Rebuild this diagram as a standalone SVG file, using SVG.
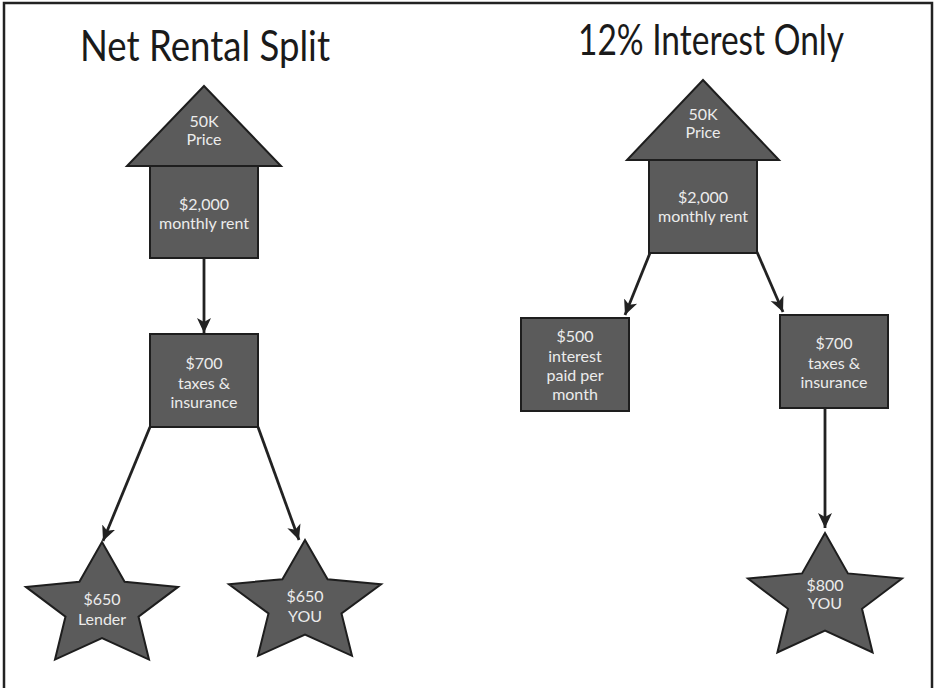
<svg xmlns="http://www.w3.org/2000/svg" width="936" height="688" viewBox="0 0 936 688">
<style>
.shape{fill:#5b5b5b;stroke:#1e1e1e;stroke-width:2;stroke-linejoin:miter}
.lbl{font-family:Lato,"Open Sans","Liberation Sans",sans-serif;font-size:16px;fill:#ececec;text-anchor:middle}
.title{font-family:Lato,"Open Sans","Liberation Sans",sans-serif;font-size:42px;fill:#1a1a1a}
.conn line{stroke:#222;stroke-width:2.8;marker-end:url(#ah)}
</style>
<defs>
<marker id="ah" markerUnits="userSpaceOnUse" markerWidth="16" markerHeight="16" viewBox="0 0 16 16" refX="15" refY="8" orient="auto">
<path d="M0,1 L15,8 L0,15 L4,8 Z" fill="#222"/>
</marker>
</defs>
<rect x="0" y="0" width="936" height="688" fill="#fff"/>
<rect x="4" y="3" width="928" height="700" fill="none" stroke="#222" stroke-width="2.5"/>
<text class="title" x="80" y="61" textLength="250" lengthAdjust="spacingAndGlyphs">Net Rental Split</text>
<text class="title" x="578" y="55" textLength="266" lengthAdjust="spacingAndGlyphs">12% Interest Only</text>

<g id="house-left">
<polygon class="shape" points="204,86 281,166 127,166"/>
<rect class="shape" x="150" y="166" width="108" height="92"/>
<text class="lbl" x="204" y="127">50K</text>
<text class="lbl" x="204" y="145">Price</text>
<text class="lbl" x="204" y="210">$2,000</text>
<text class="lbl" x="204" y="229">monthly rent</text>
</g>
<g id="taxes-left">
<rect class="shape" x="150" y="334" width="108" height="93"/>
<text class="lbl" x="204" y="369">$700</text>
<text class="lbl" x="204" y="389">taxes &amp;</text>
<text class="lbl" x="204" y="408">insurance</text>
</g>
<g id="star-lender">
<polygon class="shape" points="102,542 124.6,581.8 178.1,586.9 138.5,616.6 149,659.6 102,638.2 55,659.6 65.5,616.6 25.9,586.9 79.4,581.8"/>
<text class="lbl" x="102" y="605">$650</text>
<text class="lbl" x="102" y="625">Lender</text>
</g>
<g id="star-you-left">
<polygon class="shape" points="305,540 327.6,579.2 381.1,584.2 341.5,613.5 352,655.8 305,634.7 258,655.8 268.5,613.5 228.9,584.2 282.4,579.2"/>
<text class="lbl" x="305" y="602">$650</text>
<text class="lbl" x="305" y="622">YOU</text>
</g>

<g id="house-right">
<polygon class="shape" points="703,80 779,160 627,160"/>
<rect class="shape" x="649" y="160" width="108" height="93"/>
<text class="lbl" x="703" y="120">50K</text>
<text class="lbl" x="703" y="138">Price</text>
<text class="lbl" x="703" y="203">$2,000</text>
<text class="lbl" x="703" y="222">monthly rent</text>
</g>
<g id="interest">
<rect class="shape" x="521" y="318" width="108" height="93"/>
<text class="lbl" x="575" y="342">$500</text>
<text class="lbl" x="575" y="362">interest</text>
<text class="lbl" x="575" y="381">paid per</text>
<text class="lbl" x="575" y="400">month</text>
</g>
<g id="taxes-right">
<rect class="shape" x="780" y="315" width="108" height="93"/>
<text class="lbl" x="834" y="349">$700</text>
<text class="lbl" x="834" y="369">taxes &amp;</text>
<text class="lbl" x="834" y="388">insurance</text>
</g>
<g id="star-you-right">
<polygon class="shape" points="825,533 847.9,573.4 902,578.6 862,608.8 872.6,652.4 825,630.7 777.4,652.4 788,608.8 748,578.6 802.1,573.4"/>
<text class="lbl" x="825" y="591">$800</text>
<text class="lbl" x="825" y="609">YOU</text>
</g>

<g id="connectors" class="conn">
<line x1="204" y1="258" x2="204" y2="333"/>
<line x1="150" y1="427" x2="103" y2="541"/>
<line x1="258" y1="427" x2="299" y2="540"/>
<line x1="650" y1="253" x2="625" y2="315"/>
<line x1="757" y1="252" x2="783" y2="312"/>
<line x1="825" y1="408" x2="825" y2="528"/>
</g>
</svg>
